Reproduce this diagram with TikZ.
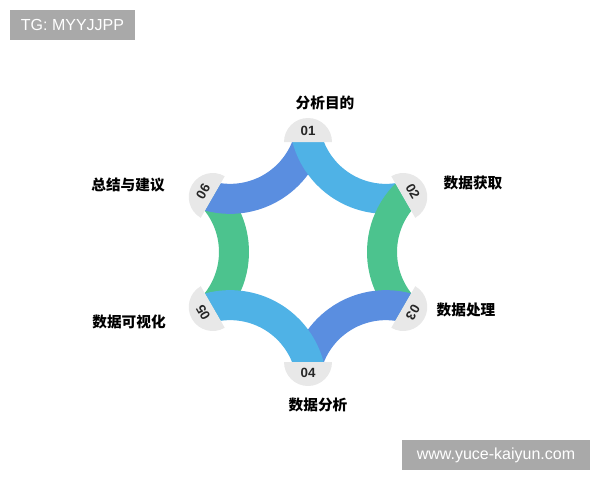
\documentclass[tikz,border=0pt]{standalone}
\usepackage{fontspec}
\setmainfont{Liberation Sans}
\newfontfamily\cjk{Noto Sans CJK SC}
\usepackage{tikz}
\usetikzlibrary{positioning,calc}
\usepackage{xcolor}
\definecolor{skyband}{HTML}{4FB2E6}
\definecolor{royalband}{HTML}{5A8EE0}
\definecolor{greenband}{HTML}{4CC38E}
\definecolor{capgray}{HTML}{E8E8E8}
\definecolor{markgray}{HTML}{A9A9A9}

\tikzset{
  band/.style={line width=22.5pt},
  stepnum/.style={font=\bfseries\fontsize{10}{10}\selectfont, text=black!85, inner sep=0pt},
  steplabel/.style={font=\cjk\bfseries\fontsize{11}{11}\selectfont, inner sep=0pt},
  markbox/.style={fill=markgray, text=white, font=\fontsize{12}{12}\selectfont, minimum height=22.5pt, inner sep=0pt}
}

\begin{document}
\begin{tikzpicture}[x=0.75pt,y=0.75pt]
\useasboundingbox (0,0) rectangle (600,480);
\coordinate (o) at (308,228);
% corners of the ring
\foreach \i/\a in {1/90,2/30,3/-30,4/-90,5/-150,6/150}
  \coordinate (v\i) at ($(o)+(\a:110)$);
% the six bands, each a concave arc
\begin{scope}
\clip ($(o)+(0:127)$) -- ($(o)+(60:127)$) -- ($(o)+(120:127)$) -- ($(o)+(180:127)$) -- ($(o)+(240:127)$) -- ($(o)+(300:127)$) -- cycle;
\foreach \m/\c in {180/greenband,120/royalband,60/skyband,0/greenband,-60/royalband,-120/skyband}
  \draw[band, \c] ($(o)+(\m:155.7)+(\m+126:81.7)$) arc[start angle=\m+126, end angle=\m+234, radius=81.7];
\end{scope}
% caps and numbers
\foreach \i/\a/\r in {1/90/0,2/30/-60,3/-30/-120,4/-90/0,5/-150/120,6/150/60}{
  \fill[capgray] ($(v\i)+(\a-90:24)$) arc[start angle=\a-90, end angle=\a+90, radius=24] -- cycle;
  \node[stepnum, rotate=\r] (n\i) at ($(o)+(\a:121)$) {0\i};
}
% step labels
\node[steplabel] (t1) at (325,377) {分析目的};
\node[steplabel] (t2) at (473,297) {数据获取};
\node[steplabel] (t3) at (466,170) {数据处理};
\node[steplabel] (t4) at (318,75) {数据分析};
\node[steplabel] (t5) at (129,158) {数据可视化};
\node[steplabel] (t6) at (128,295) {总结与建议};
% watermarks
\node[markbox, minimum width=93.75pt] (tg) at (72.5,455) {TG: MYYJJPP};
\node[markbox, minimum width=141pt] (site) at (496,25) {www.yuce-kaiyun.com};
\end{tikzpicture}
\end{document}
